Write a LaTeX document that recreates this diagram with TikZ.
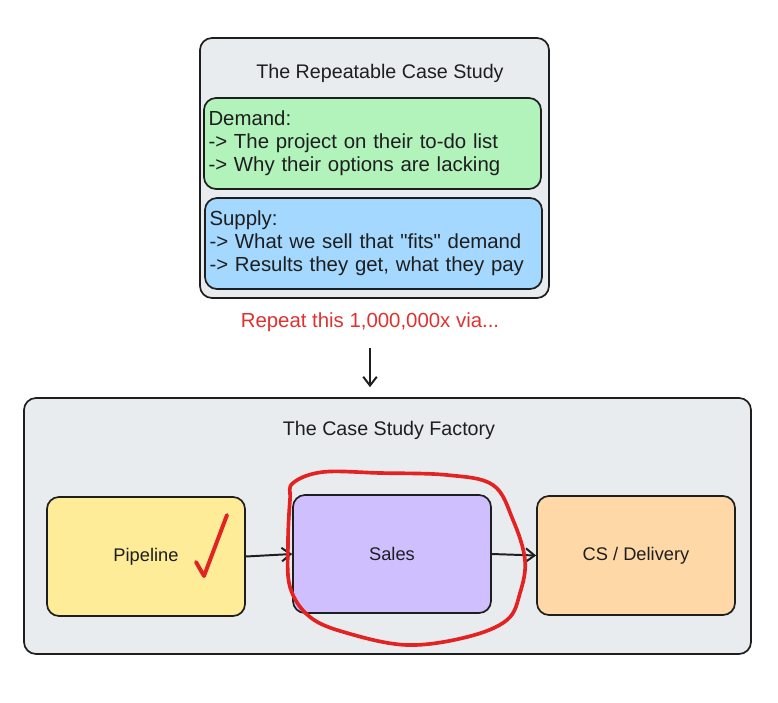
\documentclass[tikz,border=0pt]{standalone}
\usepackage{fontspec}
\setmainfont{Liberation Sans}[Ligatures=TeXOff]
\usepackage{xcolor}
\usetikzlibrary{arrows.meta,positioning,calc}
\definecolor{panelgray}{HTML}{E9ECEF}
\definecolor{inkblack}{HTML}{1E1E1E}
\definecolor{demandgreen}{HTML}{B2F2BB}
\definecolor{supplyblue}{HTML}{A5D8FF}
\definecolor{pipeyellow}{HTML}{FFEC99}
\definecolor{salesviolet}{HTML}{D0BFFF}
\definecolor{csorange}{HTML}{FFD8A8}
\definecolor{notered}{HTML}{E03131}
\definecolor{markred}{HTML}{E32222}

\begin{document}
\begin{tikzpicture}[
  panel/.style={draw=inkblack, fill=panelgray, line width=1.2pt, rounded corners=0.3cm},
  listbox/.style={draw=inkblack, line width=1.2pt, rounded corners=0.3cm,
    minimum width=8.425cm, minimum height=2.275cm, text width=8.2cm, text=inkblack,
    inner sep=0.1cm, align=left, font=\fontsize{14.5}{16.3}\selectfont},
  stagebox/.style={draw=inkblack, line width=1.2pt, rounded corners=0.3cm,
    minimum width=4.95cm, minimum height=2.95cm, align=center, text=inkblack,
    font=\fontsize{13}{16}\selectfont},
  ttl/.style={font=\fontsize{14}{16}\selectfont, text=inkblack},
  arr/.style={-{Straight Barb[length=2.2mm,width=3.4mm]}, line width=1.4pt, draw=inkblack},
  redmark/.style={draw=markred, line width=2.8pt, line cap=round, line join=round}
]
  \useasboundingbox (0,0) rectangle (19.45,-17.575);

  % the repeatable case study
  \node[panel, minimum width=8.725cm, minimum height=6.5cm] (study) at (9.3625,-4.2) {};
  \node[ttl] (studytitle) at (9.5,-1.825) {The Repeatable Case Study};
  \node[listbox, fill=demandgreen] (demand) at (9.3125,-3.5875)
    {Demand:\\-> The project on their to-do list\\-> Why their options are lacking};
  \node[listbox, fill=supplyblue] (supply) at (9.3375,-6.0875)
    {Supply:\\-> What we sell that "fits" demand\\-> Results they get, what they pay};

  \node[ttl, text=notered, font=\fontsize{14.5}{16}\selectfont] (repeat) at (9.25,-8.05) {Repeat this 1,000,000x via...};

  % the factory
  \node[panel, minimum width=18.175cm, minimum height=6.4cm] (factory) at (9.6875,-13.15) {};
  \node[ttl] (factorytitle) at (9.725,-10.75) {The Case Study Factory};

  \node[stagebox, fill=pipeyellow, minimum height=2.975cm] (pipeline) at (3.65,-13.9125) {Pipeline};
  \node[stagebox, fill=salesviolet] (sales) at (9.8,-13.85) {Sales};
  \node[stagebox, fill=csorange, minimum height=2.975cm] (delivery) at (15.9,-13.8875) {CS / Delivery};

  \draw[arr, shorten <=0.3cm, shorten >=0.25cm] (repeat.south) -- (repeat.south |- factory.north);
  \draw[arr] (pipeline.east) -- (sales.west);
  \draw[arr] (sales.east) -- (delivery.west);

  % check and circle
  \coordinate (checkstart) at (4.9,-14.05);
  \coordinate (checkbottom) at (5.1,-14.4);
  \coordinate (checktop) at (5.675,-12.875);
  \draw[redmark] (checkstart) -- (checkbottom) -- (checktop);

  \draw[redmark, line width=2.6pt] plot[smooth cycle, tension=0.6] coordinates {
    (7.325,-12.075) (8.075,-11.8) (9.5,-11.825) (11.175,-11.875) (12.325,-12.125)
    (12.825,-13.0) (13.125,-14.0) (13.0,-14.825) (12.675,-15.5) (11.675,-15.925)
    (10.175,-16.125) (8.675,-15.825) (7.75,-15.425) (7.25,-14.675) (7.2,-13.575)
    (7.25,-12.5)};
\end{tikzpicture}
\end{document}
